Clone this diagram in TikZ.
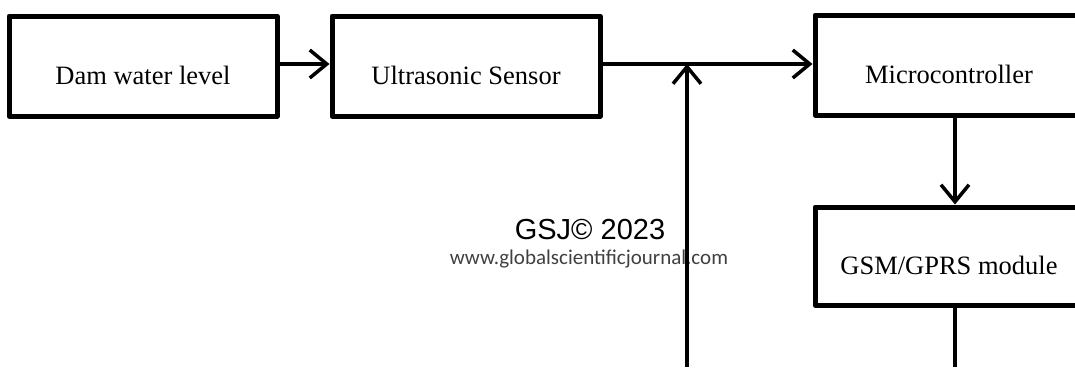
\documentclass[tikz,border=0pt]{standalone}
\usepackage{fontspec}
\setmainfont{Liberation Serif}
\newfontfamily\wmsans{Liberation Sans}
\newfontfamily\wmcal{Carlito}
\usetikzlibrary{arrows.meta}

\begin{document}
\begin{tikzpicture}[x=1pt,y=-1pt,
  blk/.style={draw,line width=5pt,line join=round,minimum width=268pt,minimum height=100pt,
    inner sep=0pt,text height=36pt,text depth=0pt,font=\fontsize{26.5}{30}\selectfont},
  flow/.style={line width=3.5pt,-{Straight Barb[length=17pt,width=28pt]}}]
  \useasboundingbox (0,0) rectangle (1075,367);
  \clip (0,0) rectangle (1075,367);
  % watermark
  \node[font=\wmsans\fontsize{29}{30}\selectfont] (gsj) at (590,230) {GSJ© 2023};
  \node[font=\wmcal\fontsize{21}{24}\selectfont,text=black!75] (url) at (589,259) {www.globalscientificjournal.com};
  % blocks
  \node[blk] (dam) at (143,66) {Dam water level};
  \node[blk] (sens) at (466,66) {Ultrasonic Sensor};
  \node[blk] (mcu) at (949,65) {Microcontroller};
  \node[blk,minimum height=98pt] (gsm) at (949,256) {GSM/GPRS module};
  \coordinate (jn) at (687,64);
  \coordinate (fb) at (687,367);
  \coordinate (out) at (955,367);
  % connectors
  \draw[flow] (dam.east |- jn) -- (sens.west |- jn);
  \draw[flow] (sens.east |- jn) -- (mcu.west |- jn);
  \draw[flow] (fb) -- (jn);
  \draw[flow] ([xshift=6pt]mcu.south) -- ([xshift=6pt]gsm.north);
  \draw[line width=3.5pt] ([xshift=6pt]gsm.south) -- (out);
\end{tikzpicture}
\end{document}
